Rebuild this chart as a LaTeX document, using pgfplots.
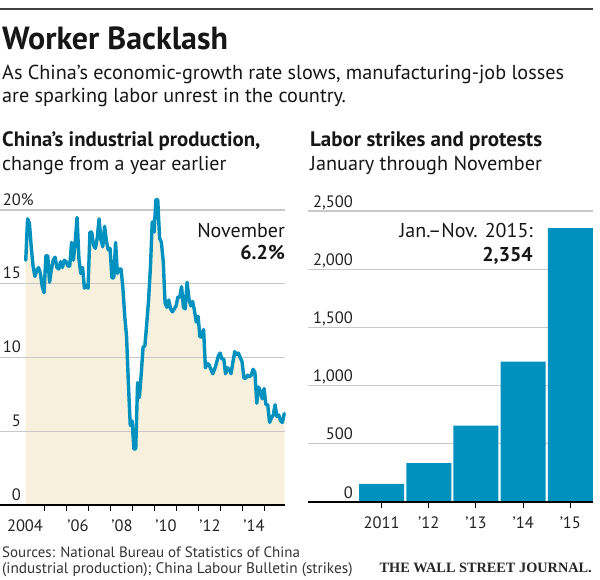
\documentclass[border=0pt]{standalone}
\usepackage{pgfplots}
\pgfplotsset{compat=1.18}
\usepackage{pgfplotstable}
\usepackage{fontspec}
\setmainfont{PT Sans}
\newfontfamily\wsjfont{Liberation Serif}
\definecolor{wsjblue}{HTML}{0091BE}
\definecolor{wsjbeige}{HTML}{F7F0DD}
\definecolor{gridgray}{HTML}{C8C8C8}
\definecolor{txt}{HTML}{161616}
\definecolor{ticktxt}{HTML}{222222}

\pgfplotstableread{
x y
2004.125 16.6
2004.2083 19.4
2004.2917 19.1
2004.375 17.5
2004.4583 16.2
2004.5417 15.5
2004.625 15.9
2004.7083 16.1
2004.7917 15.7
2004.875 14.8
2004.9583 14.4
2005.0417 16.9
2005.125 16.9
2005.2083 15.1
2005.2917 16.0
2005.375 16.6
2005.4583 16.8
2005.5417 16.1
2005.625 16.0
2005.7083 16.5
2005.7917 16.1
2005.875 16.6
2005.9583 16.5
2006.0417 16.2
2006.125 16.2
2006.2083 17.8
2006.2917 16.6
2006.375 17.9
2006.4583 19.5
2006.5417 16.7
2006.625 15.7
2006.7083 16.1
2006.7917 14.7
2006.875 14.9
2006.9583 14.7
2007.0417 18.5
2007.125 18.5
2007.2083 17.6
2007.2917 17.4
2007.375 18.1
2007.4583 19.4
2007.5417 18.0
2007.625 17.5
2007.7083 18.9
2007.7917 17.9
2007.875 17.3
2007.9583 17.4
2008.0417 15.4
2008.125 15.4
2008.2083 17.8
2008.2917 15.7
2008.375 16.0
2008.4583 16.0
2008.5417 14.7
2008.625 12.8
2008.7083 11.4
2008.7917 8.2
2008.875 5.4
2008.9583 5.7
2009.0417 3.8
2009.125 3.8
2009.2083 8.3
2009.2917 7.3
2009.375 8.9
2009.4583 10.7
2009.5417 10.8
2009.625 12.3
2009.7083 13.9
2009.7917 16.1
2009.875 19.2
2009.9583 18.5
2010.0417 20.7
2010.125 20.7
2010.2083 18.1
2010.2917 17.8
2010.375 16.5
2010.4583 13.7
2010.5417 13.4
2010.625 13.9
2010.7083 13.3
2010.7917 13.1
2010.875 13.3
2010.9583 13.5
2011.0417 14.1
2011.125 14.1
2011.2083 14.8
2011.2917 13.4
2011.375 13.3
2011.4583 15.1
2011.5417 14.0
2011.625 13.5
2011.7083 13.8
2011.7917 13.2
2011.875 12.4
2011.9583 12.8
2012.0417 11.4
2012.125 11.4
2012.2083 11.9
2012.2917 9.3
2012.375 9.6
2012.4583 9.5
2012.5417 9.2
2012.625 8.9
2012.7083 9.2
2012.7917 9.6
2012.875 10.1
2012.9583 10.3
2013.0417 9.9
2013.125 9.9
2013.2083 8.9
2013.2917 9.3
2013.375 9.2
2013.4583 8.9
2013.5417 9.7
2013.625 10.4
2013.7083 10.2
2013.7917 10.3
2013.875 10.0
2013.9583 9.7
2014.0417 8.6
2014.125 8.6
2014.2083 8.8
2014.2917 8.7
2014.375 8.8
2014.4583 9.2
2014.5417 9.0
2014.625 6.9
2014.7083 8.0
2014.7917 7.7
2014.875 7.2
2014.9583 7.9
2015.0417 6.8
2015.125 6.8
2015.2083 5.6
2015.2917 5.9
2015.375 6.1
2015.4583 6.8
2015.5417 6.0
2015.625 6.1
2015.7083 5.7
2015.7917 5.6
2015.875 6.2
}\ipdata

\pgfplotstableread{
x y
0 155
1 334
2 656
3 1206
4 2354
}\strikes

\pgfplotsset{
  wsj/.style={
    scale only axis,
    set layers,
    clip=false,
    axis line style={draw=none},
    tick align=outside,
    tick pos=left,
    major tick length=6pt,
    tick style={black, line width=1pt},
    ytick style={draw=none},
    ymajorgrids,
    major grid style={gridgray, line width=1.2pt},
    tick label style={font=\fontsize{16.5}{16.5}\selectfont, text=ticktxt},
    xticklabel style={anchor=base, inner sep=0pt, yshift=-20pt},
  }
}

\begin{document}
\begin{tikzpicture}

% header
\draw[line width=1.5pt, color=black!75] (0,-9pt) -- (593pt,-9pt);
\node[anchor=base west, inner sep=0pt, text=txt, font=\fontsize{32}{32}\selectfont\bfseries] at (2pt,-49pt) {Worker Backlash};
\node[anchor=base west, inner sep=0pt, text=txt, font=\fontsize{20.2}{20}\selectfont] at (2pt,-79pt) {As China’s economic-growth rate slows, manufacturing-job losses};
\node[anchor=base west, inner sep=0pt, text=txt, font=\fontsize{20.2}{20}\selectfont] at (2pt,-102pt) {are sparking labor unrest in the country.};
\node[anchor=base west, inner sep=0pt, text=txt, font=\fontsize{20.8}{20}\selectfont\bfseries] at (2pt,-146pt) {China’s industrial production,};
\node[anchor=base west, inner sep=0pt, text=txt, font=\fontsize{20}{20}\selectfont] at (2pt,-170pt) {change from a year earlier};
\node[anchor=base west, inner sep=0pt, text=txt, font=\fontsize{21}{20}\selectfont\bfseries] at (310pt,-146pt) {Labor strikes and protests};
\node[anchor=base west, inner sep=0pt, text=txt, font=\fontsize{20.2}{20}\selectfont] at (310pt,-170pt) {January through November};

% left chart
\begin{axis}[wsj,
  at={(0pt,-505pt)}, anchor=south west,
  width=285pt, height=309.75pt,
  xmin=2002.955, xmax=2015.909, ymin=0, ymax=21,
  ytick={0,5,10,15,20}, yticklabels={0,5,10,15,20\rlap{\%}},
  yticklabel style={anchor=base east, inner sep=0pt, xshift=27pt, yshift=5pt},
  xtick={2005,...,2015}, xticklabels={},
  extra x ticks={2004.5,2006.5,2008.5,2010.5,2012.5,2014.5},
  extra x tick labels={\llap{20}04,’06,’08,’10,’12,’14},
  extra x tick style={tick style={draw=none}},
]
\addplot[fill=wsjbeige, draw=none, on layer=axis background] table[x=x,y=y]{\ipdata} \closedcycle;
\addplot[wsjblue, line width=3.4pt, line join=round, line cap=round] table[x=x,y=y]{\ipdata};
\draw[black, line width=1.5pt] (axis cs:2002.955,0) -- (axis cs:2015.909,0);
\end{axis}
\node[anchor=base east, inner sep=0pt, text=txt, font=\fontsize{20}{20}\selectfont] at (285pt,-237pt) {November};
\node[anchor=base east, inner sep=0pt, text=txt, font=\fontsize{20}{20}\selectfont\bfseries] at (285pt,-259pt) {6.2\%};

% right chart
\begin{axis}[wsj,
  at={(308pt,-502pt)}, anchor=south west,
  width=285pt, height=302.6pt,
  xmin=-1.56, xmax=4.48, ymin=0, ymax=2600,
  ytick={0,500,1000,1500,2000,2500},
  yticklabels={0,500,{1,000},{1,500},{2,000},{2,500}},
  yticklabel style={anchor=base east, inner sep=0pt, xshift=51pt, yshift=4pt},
  xtick={0,1,2,3,4}, xticklabels={2011,’12,’13,’14,’15},
]
\addplot[ybar, bar width=45pt, fill=wsjblue, draw=none] table[x=x,y=y]{\strikes};
\draw[black, line width=1.5pt] (axis cs:-1.56,0) -- (axis cs:4.48,0);
\end{axis}
\node[anchor=base east, inner sep=0pt, text=txt, font=\fontsize{20}{20}\selectfont] at (533pt,-237pt) {Jan.–Nov. 2015:};
\node[anchor=base east, inner sep=0pt, text=txt, font=\fontsize{20}{20}\selectfont\bfseries] at (533pt,-261pt) {2,354};

% footer
\node[anchor=base west, inner sep=0pt, text=black!80, font=\fontsize{15}{15}\selectfont] at (2pt,-557pt) {Sources: National Bureau of Statistics of China};
\node[anchor=base west, inner sep=0pt, text=black!80, font=\fontsize{15.3}{15}\selectfont] at (2pt,-573pt) {(industrial production); China Labour Bulletin (strikes)};
\node[anchor=base east, inner sep=0pt, text=black!85, font=\wsjfont\bfseries\fontsize{14.3}{14.3}\selectfont] at (592pt,-572pt) {THE WALL STREET JOURNAL.};

\pgfresetboundingbox
\useasboundingbox (0,0) rectangle (600pt,-579pt);
\end{tikzpicture}
\end{document}
